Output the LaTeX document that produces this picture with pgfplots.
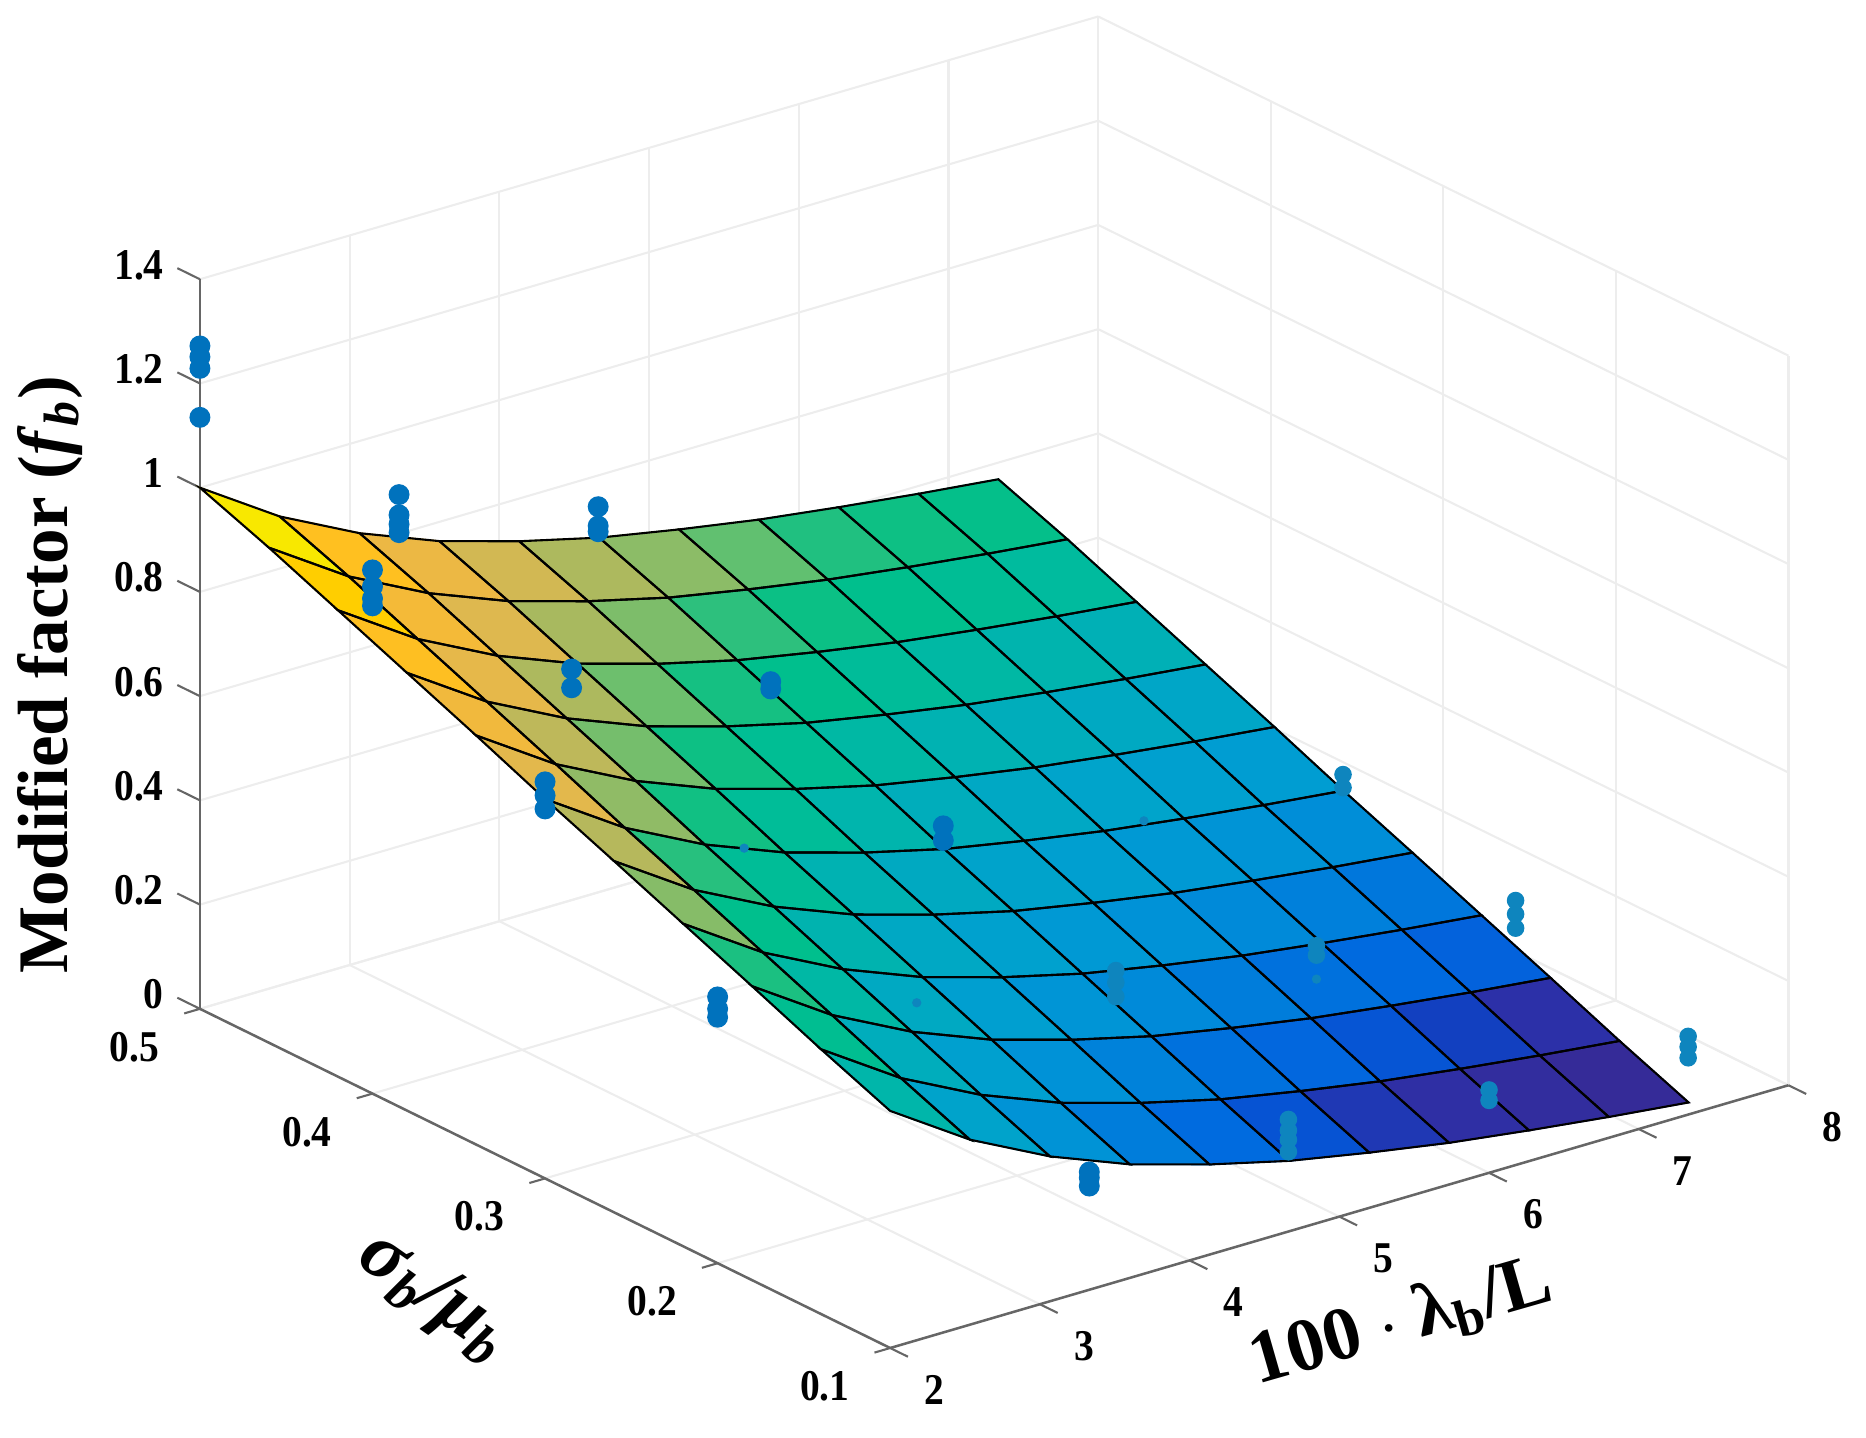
\documentclass[border=0pt]{standalone}
\usepackage{fontspec}
\usepackage{pgfplots}
\usepackage{pgfplotstable}
\pgfplotsset{compat=1.18}
\setmainfont{Liberation Serif}
\newfontfamily\tickfont[FakeStretch=0.9]{Liberation Serif}
\definecolor{dotblue}{RGB}{0,114,189}
\definecolor{dotmuted}{RGB}{14,133,190}
% fitted surface, 11 x 11 nodes, row by row
\pgfplotstableread{
x y z
2 0.50 1.000
2.533 0.50 0.900
3.067 0.50 0.823
3.6 0.50 0.763
4.133 0.50 0.718
4.667 0.50 0.680
5.2 0.50 0.651
5.733 0.50 0.625
6.267 0.50 0.604
6.8 0.50 0.585
7.333 0.50 0.568
2 0.46 0.950
2.533 0.46 0.850
3.067 0.46 0.773
3.6 0.46 0.713
4.133 0.46 0.668
4.667 0.46 0.630
5.2 0.46 0.601
5.733 0.46 0.575
6.267 0.46 0.554
6.8 0.46 0.535
7.333 0.46 0.518
2 0.42 0.895
2.533 0.42 0.795
3.067 0.42 0.718
3.6 0.42 0.658
4.133 0.42 0.613
4.667 0.42 0.575
5.2 0.42 0.546
5.733 0.42 0.520
6.267 0.42 0.499
6.8 0.42 0.480
7.333 0.42 0.463
2 0.38 0.840
2.533 0.38 0.740
3.067 0.38 0.663
3.6 0.38 0.603
4.133 0.38 0.558
4.667 0.38 0.520
5.2 0.38 0.491
5.733 0.38 0.465
6.267 0.38 0.444
6.8 0.38 0.425
7.333 0.38 0.408
2 0.34 0.785
2.533 0.34 0.685
3.067 0.34 0.608
3.6 0.34 0.548
4.133 0.34 0.503
4.667 0.34 0.465
5.2 0.34 0.436
5.733 0.34 0.410
6.267 0.34 0.389
6.8 0.34 0.370
7.333 0.34 0.353
2 0.30 0.728
2.533 0.30 0.628
3.067 0.30 0.551
3.6 0.30 0.491
4.133 0.30 0.446
4.667 0.30 0.408
5.2 0.30 0.379
5.733 0.30 0.353
6.267 0.30 0.332
6.8 0.30 0.313
7.333 0.30 0.296
2 0.26 0.674
2.533 0.26 0.574
3.067 0.26 0.497
3.6 0.26 0.437
4.133 0.26 0.392
4.667 0.26 0.354
5.2 0.26 0.325
5.733 0.26 0.299
6.267 0.26 0.278
6.8 0.26 0.259
7.333 0.26 0.242
2 0.22 0.619
2.533 0.22 0.519
3.067 0.22 0.442
3.6 0.22 0.382
4.133 0.22 0.337
4.667 0.22 0.299
5.2 0.22 0.270
5.733 0.22 0.244
6.267 0.22 0.223
6.8 0.22 0.204
7.333 0.22 0.187
2 0.18 0.564
2.533 0.18 0.464
3.067 0.18 0.387
3.6 0.18 0.327
4.133 0.18 0.282
4.667 0.18 0.244
5.2 0.18 0.215
5.733 0.18 0.189
6.267 0.18 0.168
6.8 0.18 0.149
7.333 0.18 0.132
2 0.14 0.508
2.533 0.14 0.408
3.067 0.14 0.331
3.6 0.14 0.271
4.133 0.14 0.226
4.667 0.14 0.188
5.2 0.14 0.159
5.733 0.14 0.133
6.267 0.14 0.112
6.8 0.14 0.093
7.333 0.14 0.076
2 0.10 0.455
2.533 0.10 0.355
3.067 0.10 0.278
3.6 0.10 0.218
4.133 0.10 0.173
4.667 0.10 0.135
5.2 0.10 0.106
5.733 0.10 0.080
6.267 0.10 0.059
6.8 0.10 0.040
7.333 0.10 0.023
}\surfdata
\begin{document}
\begin{tikzpicture}
\begin{axis}[
  x={(1.258cm,0.368cm)},
  y={(-14.5cm,7.125cm)},
  z={(0cm,4.379cm)},
  xmin=2,xmax=8,ymin=0.1,ymax=0.5,zmin=0,zmax=1.4,
  clip=false,
  unbounded coords=jump,
  xtick={2,3,4,5,6,7,8},
  ytick={0.1,0.2,0.3,0.4,0.5},
  ztick={0,0.2,0.4,0.6,0.8,1,1.2,1.4},
  xticklabels={2,3,4,5,6,7,8},
  yticklabels={0.1,0.2,0.3,0.4,0.5},
  zticklabels={0,0.2,0.4,0.6,0.8,1,1.2,1.4},
  xtick pos=lower,ytick pos=lower,ztick pos=lower,
  major tick length=0pt,
  grid=major,
  major grid style={black!7,line width=0.5pt},
  axis line style={draw=none},
  tick label style={font=\tickfont\bfseries\fontsize{10.5}{10.5}\selectfont},
  xticklabel style={anchor=center,xshift=0.37cm,yshift=-0.35cm},
  yticklabel style={anchor=center,xshift=-0.55cm,yshift=-0.32cm},
  zticklabel style={anchor=east,xshift=-0.18cm,yshift=0.12cm},
  xlabel={\bfseries 100 $\cdot$ λ\textsubscript{b}/L},
  ylabel={\bfseries\itshape σ\textsubscript{b}/μ\textsubscript{b}},
  zlabel={\bfseries Modified factor (\textit{f}\textsubscript{\textit{b}})},
  xlabel style={at={(axis cs:4.3,0.002,0)},anchor=center,rotate=16,yshift=0.07cm,font=\fontsize{18}{18}\selectfont},
  ylabel style={at={(axis cs:0.527,0.2364,0)},anchor=center,rotate=-35,font=\fontsize{19}{19}\selectfont},
  zlabel style={at={(axis cs:1,0.5,0.719)},anchor=center,rotate=0,xshift=0.03cm,font=\fontsize{17}{17}\selectfont},
  point meta min=0,point meta max=1,
  colormap={fig}{
    rgb255=(56,40,140) rgb255=(56,40,140) rgb255=(56,40,142) rgb255=(55,42,145)
    rgb255=(52,44,155) rgb255=(48,46,162) rgb255=(44,48,168) rgb255=(8,70,202)
    rgb255=(4,96,220) rgb255=(0,107,223) rgb255=(0,115,221) rgb255=(0,127,219)
    rgb255=(0,138,217) rgb255=(0,146,215) rgb255=(0,152,212) rgb255=(0,158,209)
    rgb255=(0,162,205) rgb255=(0,166,199) rgb255=(0,170,192) rgb255=(0,175,184)
    rgb255=(0,180,174) rgb255=(0,185,162) rgb255=(0,189,151) rgb255=(0,191,141)
    rgb255=(10,192,133) rgb255=(32,192,128) rgb255=(96,192,112) rgb255=(136,188,104)
    rgb255=(155,186,99) rgb255=(180,184,92) rgb255=(196,184,88) rgb255=(224,184,78)
    rgb255=(232,184,73) rgb255=(236,184,68) rgb255=(244,186,56) rgb255=(251,188,44)
    rgb255=(255,192,32) rgb255=(255,200,16) rgb255=(255,206,0) rgb255=(252,220,0)
    rgb255=(248,232,0)
  },
]
% axis lines
\addplot3 [black!60,line width=0.6pt,forget plot] coordinates {(2,0.1,0) (8,0.1,0)};
\addplot3 [black!60,line width=0.6pt,forget plot] coordinates {(2,0.1,0) (2,0.5,0)};
\addplot3 [black!60,line width=0.6pt,forget plot] coordinates {(2,0.5,0) (2,0.5,1.4)};
% tick marks, drawn by hand to get the outward direction
\addplot3 [black!60,line width=0.5pt,forget plot] coordinates {
  (2,0.1,0) (2,0.0897,0) (nan,nan,nan)
  (3,0.1,0) (3,0.0897,0) (nan,nan,nan)
  (4,0.1,0) (4,0.0897,0) (nan,nan,nan)
  (5,0.1,0) (5,0.0897,0) (nan,nan,nan)
  (6,0.1,0) (6,0.0897,0) (nan,nan,nan)
  (7,0.1,0) (7,0.0897,0) (nan,nan,nan)
  (8,0.1,0) (8,0.0897,0) (nan,nan,nan)
  (2,0.1,0) (1.895,0.1,0) (nan,nan,nan)
  (2,0.2,0) (1.895,0.2,0) (nan,nan,nan)
  (2,0.3,0) (1.895,0.3,0) (nan,nan,nan)
  (2,0.4,0) (1.895,0.4,0) (nan,nan,nan)
  (2,0.5,0) (1.895,0.5,0) (nan,nan,nan)
  (2,0.5,0) (2,0.5131,0) (nan,nan,nan)
  (2,0.5,0.2) (2,0.5131,0.2) (nan,nan,nan)
  (2,0.5,0.4) (2,0.5131,0.4) (nan,nan,nan)
  (2,0.5,0.6) (2,0.5131,0.6) (nan,nan,nan)
  (2,0.5,0.8) (2,0.5131,0.8) (nan,nan,nan)
  (2,0.5,1) (2,0.5131,1) (nan,nan,nan)
  (2,0.5,1.2) (2,0.5131,1.2) (nan,nan,nan)
  (2,0.5,1.4) (2,0.5131,1.4)
};

% points behind the surface
\addplot3 [only marks,mark=*,mark size=2.3pt,mark options={draw=dotblue,fill=dotblue}] coordinates {
  (2,0.5,1.272) (2,0.5,1.251) (2,0.5,1.229) (2,0.5,1.135)
  (3.33,0.5,0.875) (3.33,0.5,0.836) (3.33,0.5,0.818) (3.33,0.5,0.802)
  (4.66,0.5,0.740) (4.66,0.5,0.703) (4.66,0.5,0.692)
  (3.33,0.1,0.226) (3.33,0.1,0.215) (3.33,0.1,0.199)
  (2,0.2,0.511) (2,0.2,0.488) (2,0.2,0.472)
};

% surface, coloured by the first node of each facet, then its mesh
\addplot3 [surf,shader=flat corner,z buffer=sort,mesh/rows=11,mesh/cols=11] table {\surfdata};
\addplot3 [mesh,black,line width=0.5pt,mesh/rows=11,mesh/cols=11] table {\surfdata};

% points in front of the surface
\addplot3 [only marks,mark=*,mark size=2.3pt,mark options={draw=dotblue,fill=dotblue}] coordinates {
  (2,0.4,1.005) (2,0.4,0.973) (2,0.4,0.950) (2,0.4,0.936)
  (2,0.3,0.761) (2,0.3,0.735) (2,0.3,0.709)
  (3.33,0.4,0.703) (3.33,0.4,0.667)
  (4.66,0.4,0.567) (4.66,0.4,0.553)
  (4.66,0.3,0.453) (4.66,0.3,0.425)
};
\addplot3 [only marks,mark=*,mark size=1.9pt,mark options={draw=dotmuted,fill=dotmuted}] coordinates {
  (4.66,0.2,0.338) (4.66,0.2,0.315) (4.66,0.2,0.288)
  (4.66,0.1,0.215) (4.66,0.1,0.194) (4.66,0.1,0.176) (4.66,0.1,0.153)
  (6,0.2,0.273) (6,0.2,0.255)
  (6,0.1,0.159) (6,0.1,0.139)
  (7.33,0.3,0.327) (7.33,0.3,0.302)
  (7.33,0.2,0.248) (7.33,0.2,0.222) (7.33,0.2,0.195)
  (7.33,0.1,0.150) (7.33,0.1,0.130) (7.33,0.1,0.109)
};
\addplot3 [only marks,mark=*,mark size=0.9pt,mark options={draw=dotmuted,fill=dotmuted}] coordinates {
  (3.33,0.3,0.522) (3.33,0.2,0.388) (6,0.3,0.350) (6,0.2,0.209)
};
\coordinate (BL) at (axis cs:-3.946,0.1,0.3288);
\coordinate (TR) at (axis cs:8.518,0.1,2.039);
\end{axis}
\pgfresetboundingbox
\path (BL) rectangle (TR);
\end{tikzpicture}
\end{document}
